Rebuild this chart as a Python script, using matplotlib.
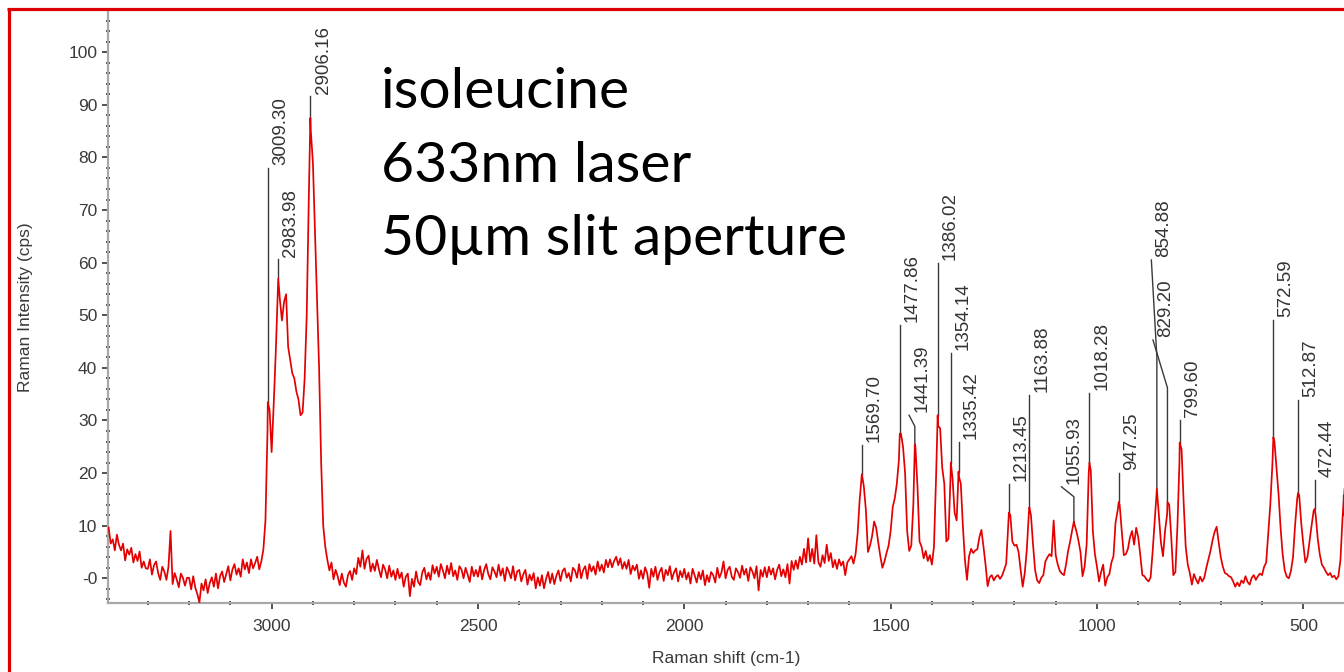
import numpy as np
import matplotlib.pyplot as plt
from matplotlib.lines import Line2D
from matplotlib.ticker import MultipleLocator

plt.rcParams.update({
    'font.family': ['Liberation Sans', 'DejaVu Sans'],
    'font.size': 12,
})

# Raman spectrum, one reading every 5 cm-1 from 3400 down to 400
raman_shift = np.arange(3400, 399, -5)
intensity = [
    # 3400 - 3305
    9.2, 9.7, 6.6, 7.4, 5.3, 8.3, 6.4, 5.3, 6.6, 3.4, 5.5, 4.5, 5.8, 3.0, 4.6, 3.3, 5.1, 2.0, 3.2, 1.9,
    # 3300 - 3205
    1.8, 3.6, 0.7, 2.5, 3.2, 1.0, -0.3, 2.2, 1.3, -0.3, 2.2, 9.0, -1.1, 1.0, -0.2, -1.7, 0.9, 0.1, -1.4, 0.1,
    # 3200 - 3105
    0.1, -2.1, 0.4, -1.8, -3.0, -4.6, -1.0, -2.3, -0.2, -2.8, -0.9, 0.2, -1.6, 0.9, -1.9, 0.4, 1.3, -0.7, 0.8, 2.3,
    # 3100 - 3005
    -0.4, 1.7, 2.7, 0.7, 1.9, 0.3, 3.6, 1.7, 3.0, 1.0, 3.6, 1.9, 2.9, 4.1, 1.7, 3.2, 5.5, 11.0, 28.0, 32.0,
    # 3000 - 2905
    24.0, 33.0, 43.0, 54.5, 53.0, 49.0, 52.5, 54.0, 44.0, 41.5, 39.0, 38.0, 35.5, 34.0, 31.0, 31.5, 38.0, 50.0, 72.0, 85.0,
    # 2900 - 2805
    79.0, 66.0, 53.0, 40.0, 22.0, 10.0, 6.0, 3.5, 1.5, 3.0, -0.2, 1.6, 0.4, -1.3, 0.9, -0.8, -1.6, 0.6, 1.4, -0.3,
    # 2800 - 2705
    1.9, 0.8, 3.9, 2.2, 5.3, 1.8, 3.7, 4.3, 1.3, 2.8, 1.4, 3.5, 1.7, 0.2, 2.6, 1.7, 0.0, 2.4, 0.3, 1.5,
    # 2700 - 2605
    -0.3, 1.8, 0.0, 1.1, -1.6, 0.3, 0.9, -3.4, -0.1, -1.6, 1.3, -0.7, -1.3, 1.1, 2.0, -0.2, 1.1, -0.3, 2.5, 0.9,
    # 2600 - 2505
    2.2, 0.3, 2.7, 1.5, 0.0, 2.4, 0.8, 2.9, 0.4, 1.5, -0.3, 2.3, 1.7, 0.0, 2.0, 0.7, -0.7, 2.2, 0.4, 1.6,
    # 2500 - 2405
    0.3, 2.3, -0.2, 1.6, 2.7, 0.8, -0.2, 2.1, 1.3, 0.2, 2.6, 0.5, 1.9, -0.5, 2.1, 1.2, 0.0, 2.3, -0.4, 1.3,
    # 2400 - 2305
    1.6, -0.6, 0.8, 1.6, -1.2, 0.7, -0.4, 1.0, -1.9, 0.2, -1.4, 0.6, -1.9, -0.1, 1.2, -0.9, 0.9, -1.1, 0.5, 1.5,
    # 2300 - 2205
    -0.5, 1.4, 1.9, 0.1, 1.0, -0.6, 2.0, 1.5, 0.1, 2.7, 0.0, 1.6, 2.3, -0.1, 2.7, 1.3, 2.3, 0.7, 3.2, 1.4,
    # 2200 - 2105
    2.6, 1.1, 3.5, 2.1, 3.6, 2.1, 3.3, 4.1, 2.5, 3.8, 1.8, 3.1, 1.8, 3.5, 0.8, 2.4, 1.5, 2.6, -0.1, 1.5,
    # 2100 - 2005
    -0.1, 2.1, 1.0, -1.8, 1.8, 0.3, 2.2, -0.3, 1.2, 2.0, -0.5, 1.6, 0.6, 2.3, -0.2, 1.1, 1.9, -0.6, 1.4, 0.2,
    # 2000 - 1905
    1.8, -0.2, 1.1, -1.0, 1.8, 0.6, -0.8, 1.2, -0.2, 1.5, -1.3, 0.6, -0.7, 1.2, 0.6, -0.8, 2.0, 0.1, 1.1, 3.2,
    # 1900 - 1805
    0.0, 1.6, 2.2, 0.3, -0.3, 1.9, 1.2, 0.1, 2.4, 0.7, 1.8, -0.5, 2.1, 1.3, 0.0, 2.3, -2.3, 1.6, 0.3, 2.1,
    # 1800 - 1705
    0.2, 2.2, 0.7, 1.9, -0.2, 1.6, 2.6, 0.4, 1.7, 0.2, 2.7, -1.0, 3.3, 1.6, 3.4, 1.8, 4.1, 2.6, 5.6, 3.0,
    # 1700 - 1605
    7.6, 3.2, 5.6, 2.8, 8.2, 3.0, 2.2, 4.4, 2.9, 6.4, 3.3, 4.8, 2.1, 3.5, 1.8, 3.6, 2.4, 3.2, 0.6, 3.0,
    # 1600 - 1505
    3.6, 4.2, 2.8, 4.6, 8.5, 15.0, 19.5, 17.5, 13.0, 5.0, 6.2, 8.0, 10.8, 9.6, 6.8, 4.2, 2.0, 3.2, 4.8, 6.2,
    # 1500 - 1405
    9.0, 13.5, 15.2, 18.0, 22.5, 27.5, 25.0, 20.0, 9.0, 5.2, 6.2, 14.0, 25.0, 17.5, 7.0, 6.0, 3.8, 5.2, 3.3, 4.4,
    # 1400 - 1305
    2.6, 6.0, 19.0, 29.0, 28.5, 21.0, 18.0, 7.0, 7.5, 19.0, 19.0, 12.5, 11.0, 19.5, 18.0, 10.0, 3.5, -0.3, 4.2, 5.6,
    # 1300 - 1205
    4.8, 5.3, 5.5, 7.8, 9.2, 6.0, 2.6, -1.5, 0.2, 0.6, -0.4, 0.3, 0.6, -0.1, 0.5, 1.6, 2.8, 10.5, 12.0, 7.0,
    # 1200 - 1105
    6.2, 6.4, 5.0, 1.6, -1.6, 1.0, 5.5, 12.5, 12.0, 6.5, 1.6, -0.4, -0.9, 0.1, 0.6, 3.2, 4.0, 4.6, 4.2, 11.0,
    # 1100 - 1005
    4.4, 2.6, 1.4, 0.9, 0.6, 2.6, 5.2, 7.0, 9.2, 10.4, 9.0, 7.2, 5.0, 0.4, 2.2, 6.5, 20.0, 20.5, 9.0, 4.6,
    # 1000 - 905
    2.2, -0.6, 1.2, 2.6, -1.4, 0.2, 0.8, 3.0, 4.2, 10.6, 12.8, 14.0, 9.0, 4.4, 4.6, 5.6, 7.8, 9.0, 6.4, 9.6,
    # 900 - 805
    7.8, 4.4, 0.6, 0.4, -0.2, -0.6, 0.2, 5.2, 11.0, 16.5, 12.0, 6.8, 4.2, 9.0, 12.2, 14.0, 7.8, 0.6, 1.2, 10.0,
    # 800 - 705
    22.5, 24.5, 14.5, 6.0, 2.6, 1.0, -1.2, 0.8, -0.2, -1.0, 0.3, -0.6, 0.1, 2.0, 3.6, 5.2, 7.2, 8.8, 9.8, 6.8,
    # 700 - 605
    4.0, 2.2, 1.0, 0.8, 0.4, 0.2, -0.6, -1.6, -0.8, -1.5, -0.4, -0.9, 0.4, -0.7, -1.2, 0.1, 0.6, -0.3, 0.4, 0.9,
    # 600 - 505
    0.6, 2.2, 3.0, 8.5, 14.0, 21.5, 26.0, 21.0, 16.0, 9.5, 4.5, 1.5, 0.3, 0.0, 1.4, 4.0, 10.0, 15.0, 15.8, 10.5,
    # 500 - 400
    6.5, 3.0, 4.0, 7.0, 10.0, 12.8, 12.0, 7.5, 4.5, 2.6, 2.0, 1.2, 0.6, 1.0, 0.2, 0.5, -0.2, 0.4, 3.5, 11.5,
    17.0,
]

# picked peaks: position (cm-1) and intensity at the peak
peak_pos = [3009.30, 2983.98, 2906.16, 1569.70, 1477.86, 1441.39, 1386.02, 1354.14,
            1335.42, 1213.45, 1163.88, 1055.93, 1018.28, 947.25, 854.88, 829.20,
            799.60, 572.59, 512.87, 472.44]
peak_int = [33.5, 57.0, 87.5, 19.8, 27.5, 25.5, 31.0, 22.0,
            20.3, 12.5, 13.5, 10.8, 22.0, 14.5, 17.0, 14.5,
            25.8, 26.8, 16.2, 13.2]

# peak at the right edge of the range, label off the plot
edge_peak_pos = 404.6
edge_peak_int = 12.0

x_ticks = [3000, 2500, 2000, 1500, 1000, 500]
x_ticklabels = ['3000', '2500', '2000', '1500', '1000', '500']
y_ticks = [0, 10, 20, 30, 40, 50, 60, 70, 80, 90, 100]
y_ticklabels = ['-0', '10', '20', '30', '40', '50', '60', '70', '80', '90', '100']

# leader layout: where each label line ends; bent leaders also get an elbow
label_y = [78.0, 60.6, 91.6, 25.3, 48.2, 31.0, 59.9, 42.8,
           26.0, 17.9, 34.8, 17.4, 35.2, 20.0, 60.5, 45.3,
           30.1, 49.1, 33.9, 18.7]
elbow_y = {1441.39: 28.9, 1055.93: 15.5, 854.88: 42.1, 829.20: 36.2}
bend_x = {1441.39: 1455.4, 1055.93: 1086.2, 854.88: 868.2, 829.20: 864.3}
edge_label_y = 15.8

W, H = 1344, 672
fig = plt.figure(figsize=(W / 100, H / 100), dpi=100, facecolor='white')
ax = fig.add_axes([108.3 / W, 1 - 603.3 / H, (W - 108.3) / W, (603.3 - 11.7) / H])

# spectrum with the picked peak maxima merged in
xs = np.concatenate([raman_shift, peak_pos])
ys = np.concatenate([np.asarray(intensity, dtype=float), peak_int])
order = np.argsort(xs)[::-1]
ax.plot(xs[order], ys[order], color='#e40000', lw=1.25, zorder=3)

lead_kw = dict(color='#3a3a3a', lw=1.0, zorder=2)
for p, v, ly in zip(peak_pos, peak_int, label_y):
    if p in elbow_y:
        tx = bend_x[p]
        ax.plot([p, p, tx], [v, elbow_y[p], ly], **lead_kw)
    else:
        tx = p
        ax.plot([p, p], [v, ly], **lead_kw)
    ax.annotate(f'{p:.2f}', xy=(tx, ly), xytext=(3, 2), textcoords='offset points',
                rotation=90, rotation_mode='anchor', ha='left', va='top',
                fontsize=13.5, color='#333333', zorder=4)

ax.plot([edge_peak_pos, edge_peak_pos], [edge_peak_int, edge_label_y], **lead_kw)

ax.set_xlim(3395.8, 401.4)
ax.set_ylim(-4.75, 107.7)

ax.set_xticks(x_ticks)
ax.set_xticklabels(x_ticklabels)
ax.xaxis.set_minor_locator(MultipleLocator(100))
ax.set_yticks(y_ticks)
ax.set_yticklabels(y_ticklabels)
ax.yaxis.set_minor_locator(MultipleLocator(2))

for side in ('top', 'right'):
    ax.spines[side].set_visible(False)
for side in ('left', 'bottom'):
    ax.spines[side].set_color('#a8a8a8')
    ax.spines[side].set_linewidth(1.6)

ax.tick_params(axis='both', which='major', color='#333333', width=1.2,
               labelsize=12.5, labelcolor='#3a3a3a')
ax.tick_params(axis='y', which='major', direction='out', length=4, pad=4)
ax.tick_params(axis='x', which='major', direction='out', length=4, pad=7)
ax.tick_params(axis='both', which='minor', direction='inout', length=2.5,
               width=1.2, color='#333333')

ax.set_xlabel('Raman shift (cm-1)', fontsize=12.5, color='#3a3a3a')
ax.xaxis.set_label_coords(0.5, -0.08)
ax.set_ylabel('Raman Intensity (cps)', fontsize=12.5, color='#3a3a3a')
ax.yaxis.set_label_coords(-0.061, 0.5)

# sample description
title_lines = ['isoleucine', '633nm laser', '50µm slit aperture']
for line, base in zip(title_lines, [108, 182, 255]):
    fig.text(381 / W, 1 - base / H, line, fontsize=41, color='black',
             family=['Lato', 'DejaVu Sans'], ha='left', va='baseline')

# red frame along the left and top edges
frame_kw = dict(color='#dd0000', lw=2.3, transform=fig.transFigure, solid_capstyle='butt')
fig.add_artist(Line2D([8.5 / W, 8.5 / W], [0, 1 - 7.5 / H], **frame_kw))
fig.add_artist(Line2D([7.3 / W, 1], [1 - 8.5 / H, 1 - 8.5 / H], **frame_kw))

fig.savefig('out.png', dpi=100, facecolor='white')
